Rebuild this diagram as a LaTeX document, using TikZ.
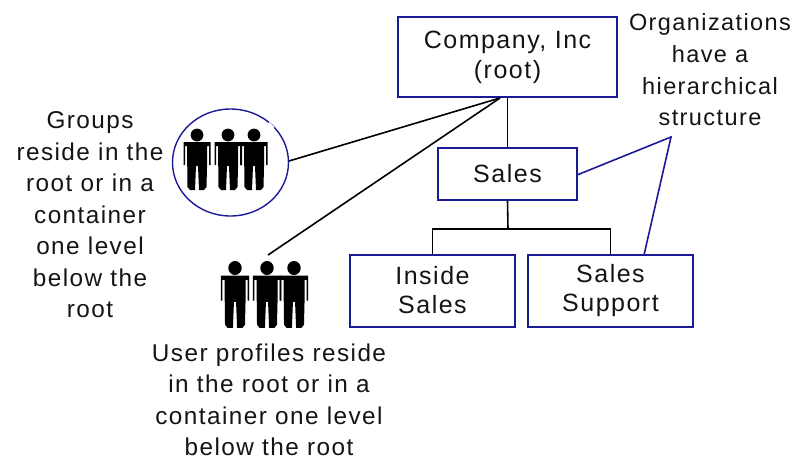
\documentclass[tikz,border=0pt]{standalone}
\usepackage{fontspec}
\setmainfont[LetterSpace=6]{Liberation Sans}
\usetikzlibrary{shapes.geometric}
\definecolor{navy}{RGB}{26,26,150}
\definecolor{ink}{RGB}{20,20,20}
\tikzset{
  x=1pt,y=-1pt,
  orgbox/.style={draw=navy,line width=1.5pt,inner sep=0pt,align=center,text=ink,font=\fontsize{25}{29}\selectfont},
  note/.style={inner sep=0pt,align=center,text=ink,font=\fontsize{24.3}{31.5}\selectfont},
  tie/.style={draw=black,line width=1.6pt},
  bluetie/.style={draw=navy,line width=1.6pt},
  person/.pic={
    \fill[black] (0,0) circle (6.4);
    \fill[black] (-13.5,7) -- (13.5,7) -- (13.5,30) -- (12,30) -- (12,11) -- (10,11) -- (10,32) -- (9.5,52) -- (7,55) -- (2,55) -- (1,31) -- (-1,31) -- (-2,55) -- (-7,55) -- (-9.5,52) -- (-10,11) -- (-12,11) -- (-12,30) -- (-13.5,30) -- cycle;
  }
}
\begin{document}
\begin{tikzpicture}
\useasboundingbox (0,0) rectangle (806,461);
\node[orgbox,minimum width=219,minimum height=80,font=\fontsize{25}{30}\selectfont] (root) at (507.5,57) {Company, Inc\\(root)};
\node[orgbox,minimum width=139,minimum height=52] (sales) at (507.5,174) {Sales};
\node[orgbox,minimum width=165,minimum height=72] (inside) at (432.5,291) {\raisebox{2pt}{Inside}\\\raisebox{2pt}{Sales}};
\node[orgbox,minimum width=165,minimum height=72] (support) at (610.5,291) {Sales\\Support};
\node[draw=navy,line width=1.4pt,ellipse,inner sep=0pt,minimum width=116,minimum height=107] (groups) at (230.5,162.5) {};
\draw[white,line width=2.5pt] (268.5,123) -- (273.5,128);
\coordinate (rootpt) at (500,98);
\coordinate (peak) at (671,137);
\coordinate (bus) at (508,229);
\coordinate (userspt) at (268,255);
\coordinate (groupspt) at (289,161);
\coordinate (supportpt) at (644,255);
\coordinate (salespt) at (577,175);
\draw[tie] (root.south) -- (sales.north);
\draw[tie] (sales.south) -- (bus);
\draw[tie] (inside.north) |- (bus) -| (support.north);
\draw[tie] (rootpt) -- (groupspt);
\draw[tie] (rootpt) -- (userspt);
\draw[bluetie] (salespt) -- (peak) -- (supportpt);
\pic at (197,135) {person};
\pic at (228,135) {person};
\pic at (254,135) {person};
\pic[yscale=1.09,xscale=1.05] at (235,268) {person};
\pic[yscale=1.09,xscale=1.05] at (267,268) {person};
\pic[yscale=1.09,xscale=1.05] at (294,268) {person};
\node[note,font=\fontsize{23.5}{31.7}\selectfont] (orgnote) at (710,70) {Organizations\\have a\\hierarchical\\structure};
\node[note] (groupnote) at (90,215) {Groups\\reside in the\\root or in a\\container\\one level\\below the\\root};
\node[note] (usernote) at (269,400) {User profiles reside\\in the root or in a\\container one level\\below the root};
\end{tikzpicture}
\end{document}
